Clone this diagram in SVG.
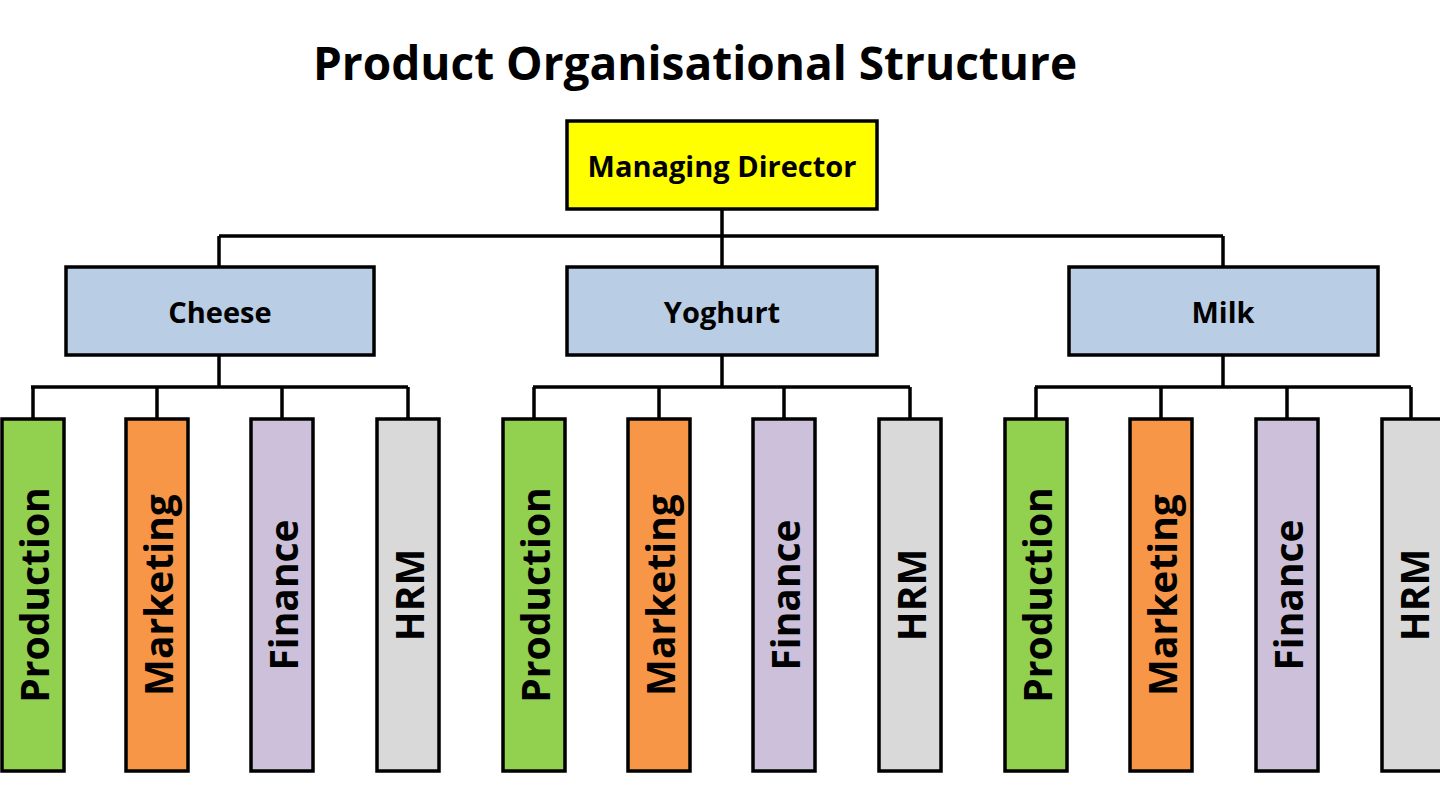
<svg xmlns="http://www.w3.org/2000/svg" width="1440" height="806" viewBox="0 0 1440 806">
<style>
.b{stroke:#000;stroke-width:3.5}
.t{font-family:"Open Sans","Liberation Sans",sans-serif;font-weight:bold;text-anchor:middle;dominant-baseline:central;fill:#000}
.v{font-size:39px}
.l{font-size:29px}
.g{fill:#92d050}.o{fill:#f79646}.p{fill:#ccc0da}.h{fill:#d9d9d9}.bl{fill:#b9cde5}
</style>
<rect width="1440" height="806" fill="#fff"/>
<text class="t" x="695" y="62" font-size="46">Product Organisational Structure</text>
<g id="connectors" fill="none" stroke="#000" stroke-width="3.5">
<path d="M722 209V236M219 236H1223M219 236V267M722 236V267M1223 236V267"/>
<path d="M219 355V387M31 387H408M33 387V419M157 387V419M282 387V419M408 387V419"/>
<path d="M722 355V387M533 387H910M534 387V419M659 387V419M784 387V419M910 387V419"/>
<path d="M1223 355V387M1035 387H1411M1036 387V419M1161 387V419M1287 387V419M1411 387V419"/>
</g>
<g id="md"><rect class="b" x="567" y="121" width="310" height="88" fill="#ffff00"/><text class="t l" x="722" y="165">Managing Director</text></g>
<g id="cheese"><rect class="b bl" x="66" y="267" width="308" height="88"/><text class="t l" x="220" y="311">Cheese</text></g>
<g id="yoghurt"><rect class="b bl" x="567" y="267" width="310" height="88"/><text class="t l" x="722" y="311">Yoghurt</text></g>
<g id="milk"><rect class="b bl" x="1069" y="267" width="309" height="88"/><text class="t l" x="1223" y="311">Milk</text></g>
<g id="c-prod"><rect class="b g" x="2" y="419" width="62" height="352"/><text class="t v" transform="translate(33 595) rotate(-90)">Production</text></g>
<g id="c-mkt"><rect class="b o" x="126" y="419" width="62" height="352"/><text class="t v" transform="translate(157 595) rotate(-90)">Marketing</text></g>
<g id="c-fin"><rect class="b p" x="251" y="419" width="62" height="352"/><text class="t v" transform="translate(282 595) rotate(-90)">Finance</text></g>
<g id="c-hrm"><rect class="b h" x="377" y="419" width="62" height="352"/><text class="t v" transform="translate(408 595) rotate(-90)">HRM</text></g>
<g id="y-prod"><rect class="b g" x="503" y="419" width="62" height="352"/><text class="t v" transform="translate(534 595) rotate(-90)">Production</text></g>
<g id="y-mkt"><rect class="b o" x="628" y="419" width="62" height="352"/><text class="t v" transform="translate(659 595) rotate(-90)">Marketing</text></g>
<g id="y-fin"><rect class="b p" x="753" y="419" width="62" height="352"/><text class="t v" transform="translate(784 595) rotate(-90)">Finance</text></g>
<g id="y-hrm"><rect class="b h" x="879" y="419" width="62" height="352"/><text class="t v" transform="translate(910 595) rotate(-90)">HRM</text></g>
<g id="m-prod"><rect class="b g" x="1005" y="419" width="62" height="352"/><text class="t v" transform="translate(1036 595) rotate(-90)">Production</text></g>
<g id="m-mkt"><rect class="b o" x="1130" y="419" width="62" height="352"/><text class="t v" transform="translate(1161 595) rotate(-90)">Marketing</text></g>
<g id="m-fin"><rect class="b p" x="1256" y="419" width="62" height="352"/><text class="t v" transform="translate(1287 595) rotate(-90)">Finance</text></g>
<g id="m-hrm"><rect class="b h" x="1382" y="419" width="62" height="352"/><text class="t v" transform="translate(1413 595) rotate(-90)">HRM</text></g>
</svg>
